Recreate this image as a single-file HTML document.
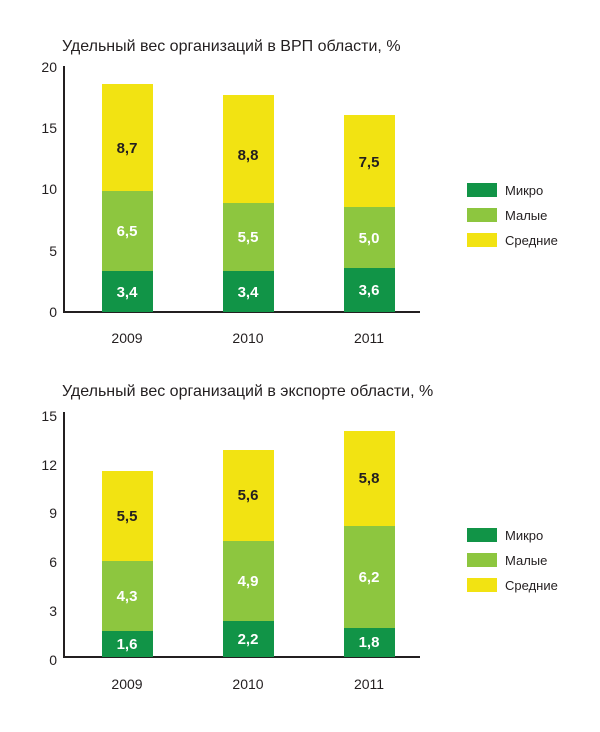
<!DOCTYPE html>
<html><head><meta charset="utf-8"><style>
body{margin:0;background:#fff}
svg text{font-family:"Liberation Sans",sans-serif}
</style></head><body>
<svg width="600" height="727" xmlns="http://www.w3.org/2000/svg">
<g font-size="16" fill="#231f20">
<text x="62" y="51">Удельный вес организаций в ВРП области, %</text>
<text x="62" y="396">Удельный вес организаций в экспорте области, %</text>
</g>
<!-- chart 1 -->
<g font-size="14" fill="#231f20" text-anchor="end">
<text x="57" y="317">0</text><text x="57" y="256">5</text><text x="57" y="194">10</text><text x="57" y="133">15</text><text x="57" y="72">20</text>
</g>
<line x1="64" y1="66" x2="64" y2="313" stroke="#231f20" stroke-width="2"/>
<line x1="63" y1="312" x2="420" y2="312" stroke="#231f20" stroke-width="2"/>
<g>
<rect x="102" y="84" width="51" height="107" fill="#f2e312"/><rect x="102" y="191" width="51" height="80" fill="#8dc63f"/><rect x="102" y="271" width="51" height="41" fill="#119447"/>
<rect x="223" y="95" width="51" height="108" fill="#f2e312"/><rect x="223" y="203" width="51" height="68" fill="#8dc63f"/><rect x="223" y="271" width="51" height="41" fill="#119447"/>
<rect x="344" y="115" width="51" height="92" fill="#f2e312"/><rect x="344" y="207" width="51" height="61" fill="#8dc63f"/><rect x="344" y="268" width="51" height="44" fill="#119447"/>
</g>
<g font-size="15" font-weight="bold" text-anchor="middle">
<text x="127" y="153" fill="#231f20">8,7</text><text x="127" y="236" fill="#fff">6,5</text><text x="127" y="297" fill="#fff">3,4</text>
<text x="248" y="160" fill="#231f20">8,8</text><text x="248" y="242" fill="#fff">5,5</text><text x="248" y="297" fill="#fff">3,4</text>
<text x="369" y="167" fill="#231f20">7,5</text><text x="369" y="243" fill="#fff">5,0</text><text x="369" y="295" fill="#fff">3,6</text>
</g>
<g font-size="14" fill="#231f20" text-anchor="middle">
<text x="127" y="343">2009</text><text x="248" y="343">2010</text><text x="369" y="343">2011</text>
</g>
<g font-size="13" fill="#231f20">
<rect x="467" y="183" width="30" height="14" fill="#119447"/><text x="505" y="195">Микро</text>
<rect x="467" y="208" width="30" height="14" fill="#8dc63f"/><text x="505" y="220">Малые</text>
<rect x="467" y="233" width="30" height="14" fill="#f2e312"/><text x="505" y="245">Средние</text>
</g>
<!-- chart 2 -->
<g font-size="14" fill="#231f20" text-anchor="end">
<text x="57" y="665">0</text><text x="57" y="616">3</text><text x="57" y="567">6</text><text x="57" y="518">9</text><text x="57" y="470">12</text><text x="57" y="421">15</text>
</g>
<line x1="64" y1="412" x2="64" y2="658" stroke="#231f20" stroke-width="2"/>
<line x1="63" y1="657" x2="420" y2="657" stroke="#231f20" stroke-width="2"/>
<g>
<rect x="102" y="471" width="51" height="90" fill="#f2e312"/><rect x="102" y="561" width="51" height="70" fill="#8dc63f"/><rect x="102" y="631" width="51" height="26" fill="#119447"/>
<rect x="223" y="450" width="51" height="91" fill="#f2e312"/><rect x="223" y="541" width="51" height="80" fill="#8dc63f"/><rect x="223" y="621" width="51" height="36" fill="#119447"/>
<rect x="344" y="431" width="51" height="95" fill="#f2e312"/><rect x="344" y="526" width="51" height="102" fill="#8dc63f"/><rect x="344" y="628" width="51" height="29" fill="#119447"/>
</g>
<g font-size="15" font-weight="bold" text-anchor="middle">
<text x="127" y="521" fill="#231f20">5,5</text><text x="127" y="601" fill="#fff">4,3</text><text x="127" y="649" fill="#fff">1,6</text>
<text x="248" y="500" fill="#231f20">5,6</text><text x="248" y="586" fill="#fff">4,9</text><text x="248" y="644" fill="#fff">2,2</text>
<text x="369" y="483" fill="#231f20">5,8</text><text x="369" y="582" fill="#fff">6,2</text><text x="369" y="647" fill="#fff">1,8</text>
</g>
<g font-size="14" fill="#231f20" text-anchor="middle">
<text x="127" y="689">2009</text><text x="248" y="689">2010</text><text x="369" y="689">2011</text>
</g>
<g font-size="13" fill="#231f20">
<rect x="467" y="528" width="30" height="14" fill="#119447"/><text x="505" y="540">Микро</text>
<rect x="467" y="553" width="30" height="14" fill="#8dc63f"/><text x="505" y="565">Малые</text>
<rect x="467" y="578" width="30" height="14" fill="#f2e312"/><text x="505" y="590">Средние</text>
</g>
</svg>
</body></html>
